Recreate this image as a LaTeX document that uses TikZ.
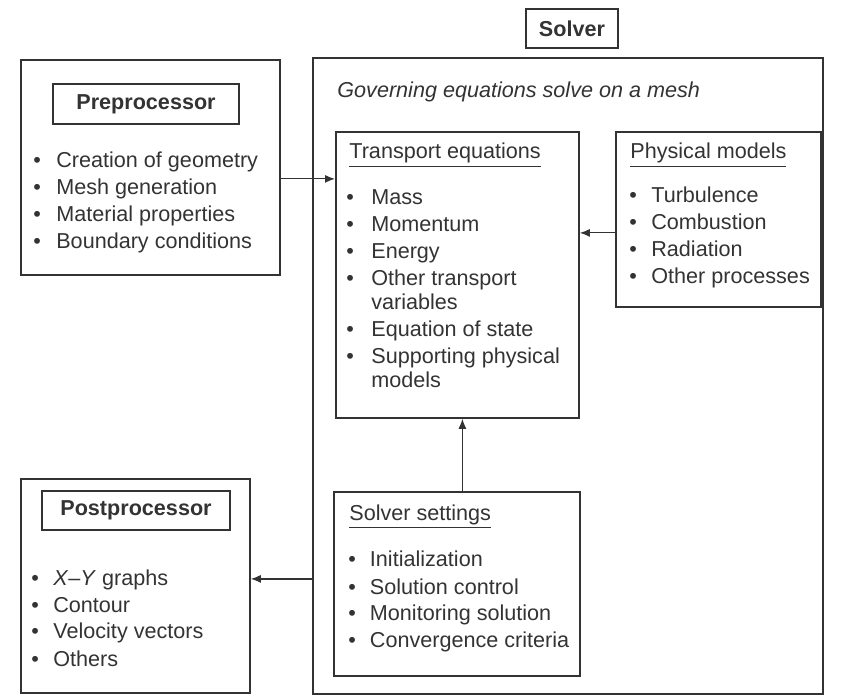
\documentclass[tikz,border=0pt]{standalone}
\usepackage{fontspec}
\setmainfont{Liberation Sans}
\usetikzlibrary{arrows.meta}

\definecolor{ink}{HTML}{333333}

\begin{document}
\begin{tikzpicture}[x=0.5pt, y=-0.5pt,
    every node/.style={font=\fontsize{10.8}{12}\selectfont, text=ink},
    panel/.style={rectangle, draw=ink, line width=0.9pt, inner sep=0pt, anchor=north west},
    titlebox/.style={rectangle, draw=ink, line width=0.8pt, inner sep=0pt, font=\fontsize{10.8}{12}\selectfont\bfseries},
    items/.style={anchor=base west, inner sep=0pt},
    heading/.style={anchor=base west, inner sep=0pt},
    arr/.style={draw=ink, line width=0.6pt, -{Latex[length=5pt,width=4pt]}}
]
\useasboundingbox (0,0) rectangle (847,695);

% boxes
\node [panel, minimum width=129.5pt, minimum height=107.5pt] (pre) at (20,59) {};
\node [titlebox, minimum width=93pt, minimum height=20pt] (pretitle) at (146,104) {Preprocessor};

\node [panel, minimum width=255pt, minimum height=318pt] (solver) at (312,57) {};
\node [titlebox, minimum width=46pt, minimum height=19.5pt] (solvertitle) at (572,28.5) {Solver};
\node [heading, font=\fontsize{10.8}{12}\selectfont\itshape] (mesh) at (337,98) {Governing equations solve on a mesh};

\node [panel, minimum width=121.5pt, minimum height=143pt] (transport) at (335,131) {};
\node [panel, minimum width=102.5pt, minimum height=87.5pt] (phys) at (615,131) {};
\node [panel, minimum width=123pt, minimum height=92pt] (settings) at (333,491) {};

\node [panel, minimum width=114.5pt, minimum height=107pt] (post) at (20,478) {};
\node [titlebox, minimum width=94pt, minimum height=19.5pt] (posttitle) at (136,510.5) {Postprocessor};

% texts
\node [items] (prelist) at (33,168) {\begin{tabular}[t]{@{}l@{\hspace{7.7pt}}l@{}}
    \textbullet & Creation of geometry\\[1.5pt]
    \textbullet & Mesh generation\\[1.5pt]
    \textbullet & Material properties\\[1.5pt]
    \textbullet & Boundary conditions
\end{tabular}};

\node [heading] (transhead) at (349,159) {\underline{Transport equations}};
\node [items] (translist) at (346,205) {\begin{tabular}[t]{@{}l@{\hspace{8.7pt}}l@{}}
    \textbullet & Mass\\[1.5pt]
    \textbullet & Momentum\\[1.5pt]
    \textbullet & Energy\\[1.5pt]
    \textbullet & Other transport\\
                & variables\\[1.5pt]
    \textbullet & Equation of state\\[1.5pt]
    \textbullet & Supporting physical\\
                & models
\end{tabular}};

\node [heading] (physhead) at (630,159) {\underline{Physical models}};
\node [items] (physlist) at (629,203) {\begin{tabular}[t]{@{}l@{\hspace{7.2pt}}l@{}}
    \textbullet & Turbulence\\[1.5pt]
    \textbullet & Combustion\\[1.5pt]
    \textbullet & Radiation\\[1.5pt]
    \textbullet & Other processes
\end{tabular}};

\node [heading] (sethead) at (349,520) {\underline{Solver settings}};
\node [items] (setlist) at (348,567) {\begin{tabular}[t]{@{}l@{\hspace{7pt}}l@{}}
    \textbullet & Initialization\\[1.5pt]
    \textbullet & Solution control\\[1.5pt]
    \textbullet & Monitoring solution\\[1.5pt]
    \textbullet & Convergence criteria
\end{tabular}};

\node [items] (postlist) at (31,585) {\begin{tabular}[t]{@{}l@{\hspace{7.2pt}}l@{}}
    \textbullet & \textit{X}--\textit{Y} graphs\\[1.5pt]
    \textbullet & Contour\\[1.5pt]
    \textbullet & Velocity vectors\\[1.5pt]
    \textbullet & Others
\end{tabular}};

% connectors
\draw [arr] ([yshift=-5.75pt]pre.east) coordinate (prein) -- (prein -| transport.west);
\draw [arr] ([yshift=-6.75pt]phys.west) coordinate (physout) -- (physout -| transport.east);
\draw [arr] ([xshift=2.75pt]settings.north) coordinate (setout) -- (setout |- transport.south);
\draw [arr] ([yshift=3.5pt]post.east) coordinate (postin) (solver.west |- postin) -- (postin);

\end{tikzpicture}
\end{document}
